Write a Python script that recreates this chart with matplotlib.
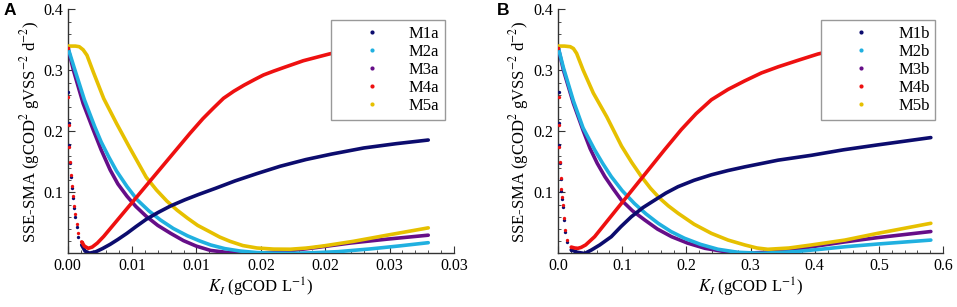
import matplotlib
matplotlib.use("Agg")
import matplotlib.pyplot as plt
from matplotlib.lines import Line2D
from matplotlib.ticker import MultipleLocator

plt.rcParams["font.family"] = ["Liberation Serif", "DejaVu Serif"]
plt.rcParams["mathtext.fontset"] = "stix"

# ---- panel A ----
a_m1_x = [0, 0.00004, 0.00007, 0.0001, 0.00018, 0.00026, 0.00031, 0.00039, 0.00049, 0.00057,
          0.0007, 0.00082, 0.00109, 0.00135, 0.0017, 0.0022, 0.0027, 0.0033, 0.0039, 0.0046,
          0.0053, 0.0061, 0.0070, 0.0080, 0.0091, 0.0102, 0.0115, 0.0130, 0.0147, 0.0165,
          0.0185, 0.0205, 0.0230, 0.0255, 0.0280]
a_m1_y = [0.337, 0.265, 0.214, 0.178, 0.148, 0.126, 0.107, 0.0905, 0.074, 0.060,
          0.044, 0.0275, 0.014, 0.004, 0.0005, 0.003, 0.008, 0.015, 0.023, 0.033,
          0.044, 0.056, 0.067, 0.078, 0.088, 0.097, 0.107, 0.119, 0.131, 0.143,
          0.154, 0.163, 0.173, 0.180, 0.186]
a_m2_x = [0, 0.0005, 0.0013, 0.0021, 0.0026, 0.0032, 0.0038, 0.0046, 0.0054, 0.0063,
          0.0072, 0.0082, 0.0093, 0.0102, 0.0111, 0.0122, 0.0134, 0.0147, 0.016, 0.0175,
          0.019, 0.021, 0.0235, 0.0258, 0.0280]
a_m2_y = [0.339, 0.305, 0.252, 0.208, 0.183, 0.158, 0.135, 0.110, 0.088, 0.070,
          0.055, 0.041, 0.029, 0.021, 0.014, 0.008, 0.004, 0.0015, 0.0005, 0.0003,
          0.0012, 0.003, 0.0075, 0.0125, 0.0177]
a_m3_x = [0, 0.00044, 0.0012, 0.0020, 0.0026, 0.0033, 0.0039, 0.0046, 0.0053, 0.0061,
          0.0070, 0.0080, 0.0090, 0.0100, 0.0111, 0.0126, 0.0146, 0.0167, 0.0194, 0.0219,
          0.0248, 0.0280]
a_m3_y = [0.339, 0.301, 0.246, 0.202, 0.170, 0.137, 0.114, 0.094, 0.077, 0.061,
          0.046, 0.033, 0.021, 0.012, 0.005, 0.0012, 0.0002, 0.003, 0.010, 0.017,
          0.0235, 0.030]
a_m4_x = [0, 0.00004, 0.00007, 0.0001, 0.00018, 0.00026, 0.00031, 0.00039, 0.00049, 0.00057,
          0.0007, 0.00082, 0.00109, 0.0013, 0.0016, 0.0019, 0.0023, 0.0028, 0.0095, 0.0105,
          0.0113, 0.0121, 0.0129, 0.0137, 0.0145, 0.0152, 0.0160, 0.0168, 0.0183, 0.0203,
          0.0240, 0.0280]
a_m4_y = [0.337, 0.257, 0.211, 0.175, 0.150, 0.129, 0.110, 0.094, 0.078, 0.064,
          0.049, 0.034, 0.019, 0.012, 0.0085, 0.0105, 0.017, 0.028, 0.197, 0.221,
          0.238, 0.2544, 0.266, 0.276, 0.285, 0.2926, 0.299, 0.305, 0.316, 0.327,
          0.344, 0.359]
a_m5_x = [0, 0.0006, 0.0009, 0.0012, 0.0015, 0.0020, 0.0028, 0.0038, 0.0048, 0.0061,
          0.0069, 0.0077, 0.0085, 0.0093, 0.0101, 0.0110, 0.0118, 0.0126, 0.0136, 0.0147,
          0.0160, 0.0173, 0.0186, 0.0199, 0.0222, 0.0248, 0.0280]
a_m5_y = [0.340, 0.340, 0.339, 0.334, 0.325, 0.297, 0.254, 0.213, 0.174, 0.125,
          0.104, 0.086, 0.071, 0.058, 0.046, 0.036, 0.027, 0.020, 0.013, 0.009,
          0.0072, 0.007, 0.009, 0.0125, 0.020, 0.030, 0.042]

# ---- panel B ----
b_m1_x = [0, 0.001, 0.0015, 0.002, 0.0026, 0.004, 0.005, 0.0065, 0.008, 0.0093,
          0.0114, 0.0145, 0.0206, 0.030, 0.0415, 0.052, 0.065, 0.083, 0.098, 0.114,
          0.132, 0.151, 0.168, 0.187, 0.212, 0.239, 0.265, 0.291, 0.343, 0.395,
          0.445, 0.498, 0.581]
b_m1_y = [0.337, 0.265, 0.214, 0.178, 0.148, 0.122, 0.103, 0.090, 0.077, 0.055,
          0.036, 0.019, 0.006, 0.002, 0.0, 0.0057, 0.014, 0.0275, 0.044, 0.060,
          0.075, 0.0877, 0.099, 0.1095, 0.120, 0.129, 0.136, 0.142, 0.153, 0.161,
          0.170, 0.178, 0.190]
b_m2_x = [0, 0.0083, 0.024, 0.039, 0.057, 0.070, 0.083, 0.100, 0.119, 0.137,
          0.156, 0.176, 0.197, 0.222, 0.249, 0.280, 0.317, 0.369, 0.41, 0.447,
          0.498, 0.581]
b_m2_y = [0.339, 0.305, 0.250, 0.206, 0.170, 0.147, 0.126, 0.103, 0.082, 0.065,
          0.0495, 0.036, 0.025, 0.015, 0.007, 0.002, 0.0003, 0.003, 0.007, 0.011,
          0.0155, 0.022]
b_m3_x = [0, 0.0083, 0.024, 0.039, 0.050, 0.061, 0.073, 0.086, 0.0986, 0.116,
          0.135, 0.155, 0.177, 0.202, 0.229, 0.260, 0.291, 0.343, 0.395, 0.447,
          0.498, 0.581]
b_m3_y = [0.339, 0.301, 0.246, 0.202, 0.172, 0.148, 0.126, 0.106, 0.0877, 0.070,
          0.055, 0.040, 0.0275, 0.017, 0.0085, 0.003, 0.0003, 0.003, 0.011, 0.019,
          0.026, 0.036]
b_m4_x = [0, 0.001, 0.0015, 0.002, 0.0026, 0.004, 0.005, 0.0065, 0.008, 0.0093,
          0.0114, 0.0145, 0.0206, 0.026, 0.031, 0.036, 0.043, 0.057, 0.166, 0.192,
          0.215, 0.239, 0.265, 0.291, 0.317, 0.343, 0.375, 0.405, 0.49, 0.58]
b_m4_y = [0.337, 0.257, 0.211, 0.175, 0.150, 0.124, 0.106, 0.092, 0.080, 0.058,
          0.039, 0.022, 0.0105, 0.009, 0.0085, 0.010, 0.014, 0.0275, 0.170, 0.203,
          0.229, 0.252, 0.269, 0.283, 0.296, 0.306, 0.317, 0.327, 0.348, 0.362]
b_m5_x = [0, 0.010, 0.019, 0.024, 0.029, 0.039, 0.055, 0.076, 0.099, 0.115,
          0.13, 0.144, 0.158, 0.172, 0.187, 0.212, 0.239, 0.265, 0.291, 0.310,
          0.327, 0.360, 0.395, 0.447, 0.498, 0.581]
b_m5_y = [0.340, 0.340, 0.339, 0.336, 0.328, 0.301, 0.263, 0.224, 0.176, 0.149,
          0.126, 0.107, 0.091, 0.078, 0.066, 0.048, 0.033, 0.022, 0.014, 0.009,
          0.0069, 0.009, 0.014, 0.022, 0.033, 0.0495]

a_xticks = [0, 0.005, 0.01, 0.015, 0.02, 0.025, 0.03]
a_xticklabels = ["0.00", "0.01", "0.01", "0.02", "0.02", "0.03", "0.03"]
b_xticks = [0, 0.1, 0.2, 0.3, 0.4, 0.5, 0.6]
b_xticklabels = ["0.0", "0.1", "0.2", "0.3", "0.4", "0.5", "0.6"]
yticks = [0.1, 0.2, 0.3, 0.4]
yticklabels = ["0.1", "0.2", "0.3", "0.4"]

colors = ["#0c0c6e", "#20b0e0", "#660e88", "#ee1010", "#e6c000"]
n_dots = 13  # leading sparse points of M1/M4 drawn as separate dots

fig = plt.figure(figsize=(9.57, 3.07), dpi=100)
ax_a = fig.add_axes([0.0707, 0.1743, 0.4037, 0.7948])
ax_b = fig.add_axes([0.5831, 0.1743, 0.4023, 0.7948])

panels = [
    (ax_a, "A", "a", [(a_m1_x, a_m1_y), (a_m2_x, a_m2_y), (a_m3_x, a_m3_y),
                      (a_m4_x, a_m4_y), (a_m5_x, a_m5_y)],
     0.03, a_xticks, a_xticklabels, 0.001, -0.0665),
    (ax_b, "B", "b", [(b_m1_x, b_m1_y), (b_m2_x, b_m2_y), (b_m3_x, b_m3_y),
                      (b_m4_x, b_m4_y), (b_m5_x, b_m5_y)],
     0.6, b_xticks, b_xticklabels, 0.02, -0.070),
]

for ax, tag, suffix, series, xmax, xt, xtl, xminor, ylab_x in panels:
    for i in [2, 1, 4, 0, 3]:
        x, y = series[i]
        c = colors[i]
        if i in (0, 3):
            ax.plot(x[:n_dots], y[:n_dots], "o", ms=2.4, mec="none", color=c, zorder=3)
            ax.plot(x[n_dots - 1:], y[n_dots - 1:], "-", lw=2.6, color=c,
                    solid_capstyle="round", solid_joinstyle="round", zorder=3)
        else:
            ax.plot(x, y, "-", lw=2.6, color=c, solid_capstyle="round",
                    solid_joinstyle="round", zorder=3)

    ax.set_xlim(0, xmax)
    ax.set_ylim(0, 0.4)
    ax.set_xticks(xt)
    ax.set_xticklabels(xtl)
    ax.set_yticks(yticks)
    ax.set_yticklabels(yticklabels)
    ax.xaxis.set_minor_locator(MultipleLocator(xminor))
    ax.yaxis.set_minor_locator(MultipleLocator(0.02))
    ax.tick_params(which="both", direction="in", labelsize=11.5, colors="#333333",
                   labelcolor="black")
    ax.tick_params(which="major", length=5, width=0.8)
    ax.tick_params(which="minor", length=2.5, width=0.6)
    for s in ["top", "right"]:
        ax.spines[s].set_visible(False)
    for s in ["left", "bottom"]:
        ax.spines[s].set_color("#333333")
        ax.spines[s].set_linewidth(1.0)

    ax.set_ylabel("SSE-SMA (gCOD$^{2}$ gVSS$^{-2}$ d$^{-2}$)", fontsize=12)
    ax.yaxis.set_label_coords(ylab_x, 0.5)
    ax.set_xlabel("$K_I$ (gCOD L$^{-1}$)", fontsize=12)
    ax.xaxis.set_label_coords(0.5, -0.09)

    handles = [Line2D([], [], ls="none", marker="o", ms=3, mec="none", color=c)
               for c in colors]
    labels = [f"M{k}{suffix}" for k in range(1, 6)]
    leg = ax.legend(handles, labels, loc="upper left", bbox_to_anchor=(0.682, 0.957),
                    fontsize=12, frameon=True, fancybox=False, framealpha=1,
                    edgecolor="#999999", handlelength=4.2, handletextpad=0.1,
                    labelspacing=0.12, borderpad=0.35, borderaxespad=0)
    leg.get_frame().set_linewidth(1.0)
    leg.set_zorder(5)

    ax.text(-0.165 if tag == "A" else -0.16, 0.995, tag, transform=ax.transAxes,
            fontsize=12.5, fontweight="bold", family="Liberation Sans",
            ha="left", va="center")

fig.savefig("out.png", dpi=100)
